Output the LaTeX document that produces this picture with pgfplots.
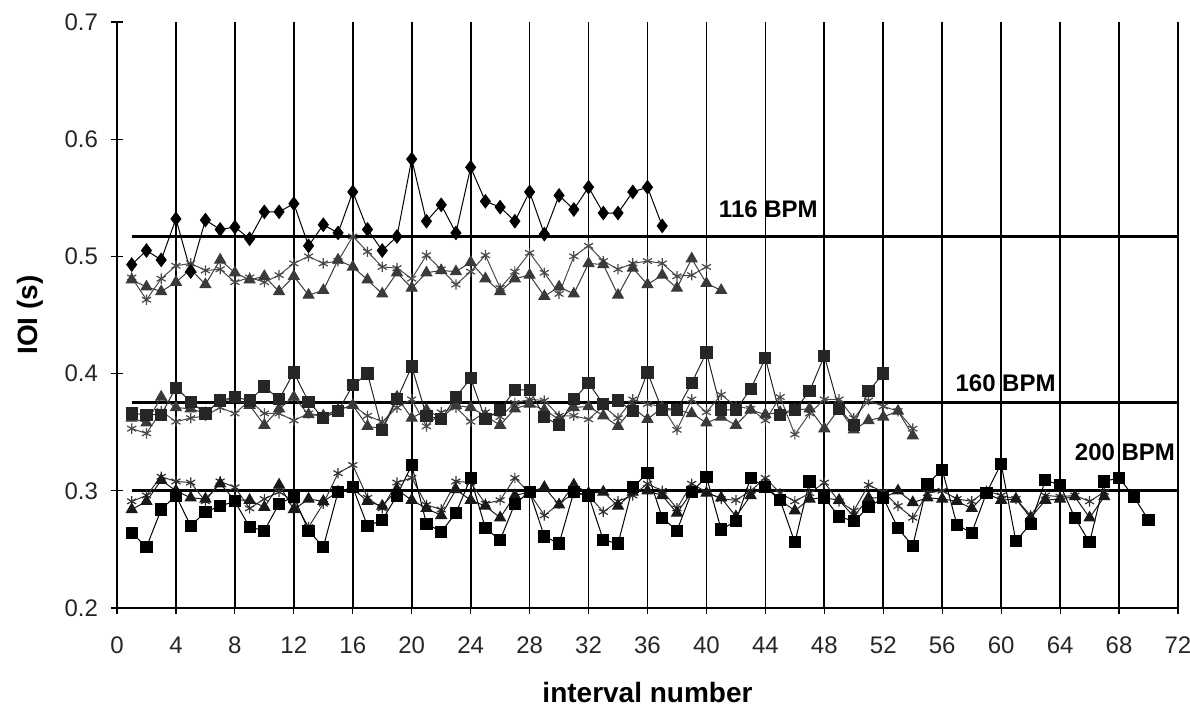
\documentclass[border=0pt]{standalone}
\usepackage{fontspec}
\setmainfont{Liberation Sans}
\usepackage{pgfplots}
\pgfplotsset{compat=1.18}
\definecolor{cTri}{HTML}{3A3A3A}
\definecolor{cStar}{HTML}{4A4A4A}
\definecolor{cSq}{HTML}{262626}
\begin{document}
\begin{tikzpicture}
\begin{axis}[
  at={(0,0)}, anchor=south west,
  scale only axis, width=530.5pt, height=293pt,
  xmin=0, xmax=72, ymin=0.2, ymax=0.7,
  xtick distance=4, ytick={0.2,0.3,0.4,0.5,0.6,0.7},
  axis x line=bottom, axis y line=left, axis line style={-, line width=0.7pt},
  xmajorgrids, grid style={black, line width=0.85pt},
  tick align=center, major tick length=6pt, tick style={black, line width=0.6pt},
  /pgf/number format/assume math mode=true,
  yticklabel style={/pgf/number format/fixed, /pgf/number format/precision=1, /pgf/number format/fixed zerofill, xshift=-3pt, font=\fontsize{12}{14}\selectfont, text=black!85},
  xticklabel style={yshift=-8pt, font=\fontsize{12}{14}\selectfont, text=black!85},
  xlabel={interval number}, ylabel={IOI (s)},
  xlabel style={at={(axis description cs:0.5,-0.145)}, anchor=center, font=\bfseries\fontsize{14}{16}\selectfont},
  ylabel style={at={(axis description cs:-0.082,0.5)}, anchor=center, font=\bfseries\fontsize{14}{16}\selectfont},
  clip=false,
]
% reference tempo lines
\addplot[black, line width=1.4pt] coordinates {(1,0.5172) (72,0.5172)};
\addplot[black, line width=1.4pt] coordinates {(1,0.375) (72,0.375)};
\addplot[black, line width=1.4pt] coordinates {(1,0.300) (72,0.300)};

% ---------- 116 BPM ----------
\addplot[cStar, line width=0.5pt, mark=asterisk, mark size=2.6pt, mark options={line width=0.6pt}] coordinates {
(1,0.482)(2,0.463)(3,0.481)(4,0.492)(5,0.494)(6,0.488)(7,0.489)(8,0.478)(9,0.482)(10,0.478)
(11,0.484)(12,0.494)(13,0.500)(14,0.494)(15,0.496)(16,0.517)(17,0.504)(18,0.491)(19,0.490)(20,0.481)
(21,0.501)(22,0.489)(23,0.476)(24,0.487)(25,0.501)(26,0.473)(27,0.487)(28,0.503)(29,0.486)(30,0.468)
(31,0.500)(32,0.509)(33,0.496)(34,0.489)(35,0.494)(36,0.496)(37,0.494)(38,0.483)(39,0.484)(40,0.491)};
\addplot[cTri, line width=0.5pt, mark=triangle*, mark size=3.1pt, mark options={fill=cTri}] coordinates {
(1,0.480)(2,0.474)(3,0.470)(4,0.478)(5,0.489)(6,0.476)(7,0.497)(8,0.486)(9,0.480)(10,0.483)
(11,0.470)(12,0.483)(13,0.467)(14,0.471)(15,0.497)(16,0.491)(17,0.480)(18,0.468)(19,0.486)(20,0.473)
(21,0.486)(22,0.488)(23,0.487)(24,0.495)(25,0.481)(26,0.470)(27,0.481)(28,0.484)(29,0.466)(30,0.474)
(31,0.468)(32,0.494)(33,0.493)(34,0.467)(35,0.490)(36,0.476)(37,0.484)(38,0.473)(39,0.498)(40,0.477)
(41,0.471)};
\addplot[black, line width=0.5pt, mark=diamond*, mark size=3.3pt, mark options={fill=black}] coordinates {
(1,0.493)(2,0.505)(3,0.497)(4,0.532)(5,0.487)(6,0.531)(7,0.523)(8,0.525)(9,0.515)(10,0.538)
(11,0.538)(12,0.545)(13,0.509)(14,0.527)(15,0.520)(16,0.555)(17,0.523)(18,0.505)(19,0.517)(20,0.583)
(21,0.530)(22,0.544)(23,0.520)(24,0.576)(25,0.547)(26,0.542)(27,0.530)(28,0.555)(29,0.519)(30,0.552)
(31,0.540)(32,0.559)(33,0.537)(34,0.537)(35,0.555)(36,0.559)(37,0.526)};

% ---------- 160 BPM ----------
\addplot[cStar, line width=0.5pt, mark=asterisk, mark size=2.6pt, mark options={line width=0.6pt}] coordinates {
(1,0.353)(2,0.349)(3,0.368)(4,0.359)(5,0.362)(6,0.364)(7,0.371)(8,0.366)(9,0.377)(10,0.366)
(11,0.366)(12,0.360)(13,0.366)(14,0.364)(15,0.369)(16,0.373)(17,0.364)(18,0.359)(19,0.371)(20,0.378)
(21,0.355)(22,0.367)(23,0.371)(24,0.359)(25,0.367)(26,0.363)(27,0.375)(28,0.378)(29,0.377)(30,0.364)
(31,0.364)(32,0.361)(33,0.372)(34,0.362)(35,0.378)(36,0.374)(37,0.372)(38,0.352)(39,0.378)(40,0.367)
(41,0.382)(42,0.372)(43,0.370)(44,0.360)(45,0.380)(46,0.348)(47,0.366)(48,0.378)(49,0.378)(50,0.362)
(51,0.377)(52,0.372)(53,0.368)(54,0.353)};
\addplot[cTri, line width=0.5pt, mark=triangle*, mark size=3.1pt, mark options={fill=cTri}] coordinates {
(1,0.362)(2,0.358)(3,0.380)(4,0.371)(5,0.370)(6,0.366)(7,0.377)(8,0.378)(9,0.373)(10,0.356)
(11,0.370)(12,0.380)(13,0.365)(14,0.364)(15,0.369)(16,0.373)(17,0.355)(18,0.353)(19,0.380)(20,0.362)
(21,0.369)(22,0.362)(23,0.373)(24,0.371)(25,0.364)(26,0.356)(27,0.370)(28,0.374)(29,0.369)(30,0.361)
(31,0.371)(32,0.372)(33,0.364)(34,0.355)(35,0.371)(36,0.361)(37,0.371)(38,0.369)(39,0.366)(40,0.358)
(41,0.363)(42,0.356)(43,0.369)(44,0.365)(45,0.367)(46,0.369)(47,0.370)(48,0.353)(49,0.370)(50,0.352)
(51,0.360)(52,0.363)(53,0.368)(54,0.347)};
\addplot[cSq, line width=0.5pt, mark=square*, mark size=2.8pt, mark options={fill=cSq}] coordinates {
(1,0.366)(2,0.365)(3,0.365)(4,0.388)(5,0.376)(6,0.366)(7,0.377)(8,0.380)(9,0.377)(10,0.389)
(11,0.378)(12,0.401)(13,0.376)(14,0.362)(15,0.368)(16,0.390)(17,0.400)(18,0.352)(19,0.378)(20,0.406)
(21,0.364)(22,0.361)(23,0.380)(24,0.396)(25,0.361)(26,0.369)(27,0.386)(28,0.386)(29,0.363)(30,0.356)
(31,0.378)(32,0.392)(33,0.374)(34,0.377)(35,0.368)(36,0.401)(37,0.369)(38,0.369)(39,0.392)(40,0.418)
(41,0.369)(42,0.369)(43,0.387)(44,0.413)(45,0.365)(46,0.369)(47,0.385)(48,0.415)(49,0.370)(50,0.356)
(51,0.385)(52,0.400)};

% ---------- 200 BPM ----------
\addplot[black!80, line width=0.5pt, mark=asterisk, mark size=2.6pt, mark options={line width=0.6pt}] coordinates {
(1,0.291)(2,0.296)(3,0.312)(4,0.308)(5,0.307)(6,0.291)(7,0.308)(8,0.303)(9,0.285)(10,0.293)
(11,0.299)(12,0.291)(13,0.269)(14,0.289)(15,0.315)(16,0.322)(17,0.294)(18,0.285)(19,0.307)(20,0.311)
(21,0.288)(22,0.284)(23,0.308)(24,0.307)(25,0.289)(26,0.292)(27,0.311)(28,0.298)(29,0.279)(30,0.289)
(31,0.298)(32,0.296)(33,0.282)(34,0.291)(35,0.296)(36,0.306)(37,0.300)(38,0.285)(39,0.306)(40,0.299)
(41,0.293)(42,0.292)(43,0.300)(44,0.311)(45,0.298)(46,0.291)(47,0.298)(48,0.307)(49,0.291)(50,0.283)
(51,0.305)(52,0.299)(53,0.287)(54,0.277)(55,0.298)(56,0.300)(57,0.293)(58,0.291)(59,0.300)(60,0.296)
(61,0.293)(62,0.279)(63,0.296)(64,0.295)(65,0.296)(66,0.291)(67,0.299)};
\addplot[black!90, line width=0.5pt, mark=triangle*, mark size=3.1pt, mark options={fill=black!90}] coordinates {
(1,0.284)(2,0.291)(3,0.309)(4,0.300)(5,0.294)(6,0.293)(7,0.306)(8,0.292)(9,0.292)(10,0.286)
(11,0.305)(12,0.284)(13,0.293)(14,0.291)(15,0.299)(16,0.302)(17,0.291)(18,0.287)(19,0.301)(20,0.292)
(21,0.285)(22,0.279)(23,0.301)(24,0.292)(25,0.287)(26,0.277)(27,0.296)(28,0.299)(29,0.303)(30,0.288)
(31,0.305)(32,0.298)(33,0.299)(34,0.287)(35,0.299)(36,0.300)(37,0.296)(38,0.281)(39,0.299)(40,0.298)
(41,0.294)(42,0.278)(43,0.296)(44,0.305)(45,0.292)(46,0.283)(47,0.293)(48,0.294)(49,0.292)(50,0.278)
(51,0.294)(52,0.294)(53,0.300)(54,0.290)(55,0.294)(56,0.293)(57,0.291)(58,0.285)(59,0.298)(60,0.292)
(61,0.293)(62,0.277)(63,0.292)(64,0.293)(65,0.295)(66,0.277)(67,0.295)};
\addplot[black, line width=0.5pt, mark=square*, mark size=2.8pt, mark options={fill=black}] coordinates {
(1,0.264)(2,0.252)(3,0.284)(4,0.296)(5,0.270)(6,0.282)(7,0.287)(8,0.291)(9,0.269)(10,0.266)
(11,0.289)(12,0.295)(13,0.266)(14,0.252)(15,0.299)(16,0.303)(17,0.270)(18,0.275)(19,0.296)(20,0.322)
(21,0.272)(22,0.265)(23,0.281)(24,0.311)(25,0.268)(26,0.258)(27,0.289)(28,0.299)(29,0.261)(30,0.255)
(31,0.299)(32,0.296)(33,0.258)(34,0.255)(35,0.303)(36,0.315)(37,0.277)(38,0.266)(39,0.299)(40,0.312)
(41,0.267)(42,0.274)(43,0.311)(44,0.303)(45,0.292)(46,0.256)(47,0.308)(48,0.294)(49,0.278)(50,0.274)
(51,0.286)(52,0.294)(53,0.268)(54,0.253)(55,0.306)(56,0.318)(57,0.271)(58,0.264)(59,0.298)(60,0.323)
(61,0.257)(62,0.272)(63,0.309)(64,0.305)(65,0.277)(66,0.256)(67,0.308)(68,0.311)(69,0.295)(70,0.275)};

\node[font=\bfseries\fontsize{12}{14}\selectfont] at (axis cs:44.2,0.540) {116 BPM};
\node[font=\bfseries\fontsize{12}{14}\selectfont] at (axis cs:60.3,0.392) {160 BPM};
\node[font=\bfseries\fontsize{12}{14}\selectfont] at (axis cs:68.4,0.333) {200 BPM};
\end{axis}
\pgfresetboundingbox
\path[use as bounding box] (-58.5pt,-51pt) rectangle (536.5pt,304pt);
\end{tikzpicture}
\end{document}
